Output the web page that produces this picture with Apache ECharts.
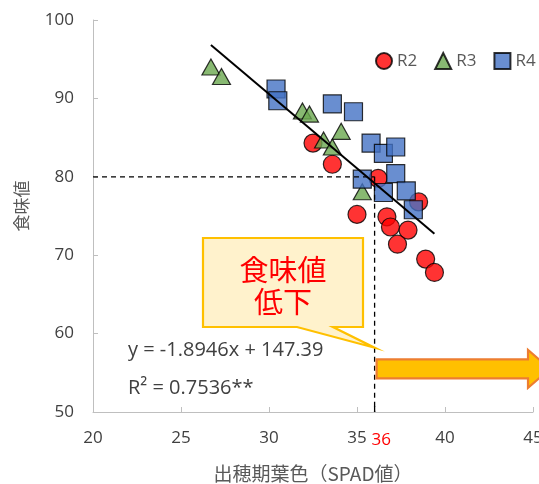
<!DOCTYPE html>
<html>
<head>
<meta charset="utf-8">
<script src="https://cdn.jsdelivr.net/npm/echarts@6/dist/echarts.min.js"></script>
<style>
  html, body { margin: 0; padding: 0; background: #fff; }
  #chart { width: 539px; height: 484px; }
</style>
</head>
<body>
<div id="chart"></div>
<script>
// SPAD leaf colour at heading vs. eating-quality score, by year
const r2X = [32.5, 33.6, 36.2, 38.5, 35.0, 36.7, 36.9, 37.9, 37.3, 38.9, 39.4];
const r2Y = [84.3, 81.6, 79.8, 76.8, 75.2, 74.9, 73.6, 73.2, 71.4, 69.5, 67.8];
const r3X = [26.7, 27.3, 31.9, 32.3, 34.1, 33.1, 33.6, 35.3];
const r3Y = [94.0, 92.8, 88.4, 88.0, 85.8, 84.7, 83.8, 78.1];
const r4X = [30.4, 30.5, 33.6, 34.8, 35.8, 36.5, 37.2, 35.3, 37.2, 36.5, 37.8, 38.2];
const r4Y = [91.2, 89.7, 89.3, 88.3, 84.3, 83.0, 83.8, 79.7, 80.4, 78.0, 78.2, 75.8];

// Linear fit shown in the annotation
const slope = -1.8946;
const intercept = 147.39;
const r2Text = 'R² = 0.7536**';

// Threshold guides
const spadThreshold = 36;
const tasteThreshold = 80;

const xTicks = [20, 25, 30, 35, 40, 45];
const yTicks = [50, 60, 70, 80, 90, 100];

const LATIN = '"Open Sans", "Noto Sans CJK JP", sans-serif';
const CJK = '"Noto Sans CJK JP", sans-serif';
const GREY = '#595959';

function pairs(xs, ys) { return xs.map((x, i) => [x, ys[i]]); }

const allX = r2X.concat(r3X, r4X);
const fitX0 = Math.min(...allX);
const fitX1 = Math.max(...allX);
const fitLine = [[fitX0, slope * fitX0 + intercept], [fitX1, slope * fitX1 + intercept]];

const chart = echarts.init(document.getElementById('chart'));

const markerBorder = { borderColor: '#000', borderWidth: 1.2 };

chart.setOption({
  animation: false,
  textStyle: { fontFamily: LATIN },
  grid: { left: 93, right: 6, top: 20, bottom: 72, outerBoundsMode: 'none' },
  legend: {
    orient: 'horizontal', left: 375, top: 52, padding: 0,
    itemWidth: 16, itemHeight: 16, itemGap: 17,
    textStyle: { color: GREY, fontSize: 17, fontFamily: LATIN },
    data: [
      { name: 'R2', icon: 'circle' },
      { name: 'R3', icon: 'triangle' },
      { name: 'R4', icon: 'rect' }
    ]
  },
  xAxis: {
    type: 'value', min: xTicks[0], max: xTicks[xTicks.length - 1], interval: 5,
    name: '出穂期葉色（SPAD値）', nameLocation: 'middle', nameGap: 52,
    nameTextStyle: { color: GREY, fontSize: 19, fontFamily: CJK },
    axisLine: { lineStyle: { color: '#bfbfbf', width: 1 } },
    axisTick: { inside: true, length: 5, lineStyle: { color: '#bfbfbf' } },
    axisLabel: { color: '#404040', fontSize: 17, margin: 18 },
    splitLine: { show: false }
  },
  yAxis: {
    type: 'value', min: yTicks[0], max: yTicks[yTicks.length - 1], interval: 10,
    axisLine: { show: true, lineStyle: { color: '#bfbfbf', width: 1 } },
    axisTick: { show: true, inside: true, length: 5, lineStyle: { color: '#bfbfbf' } },
    axisLabel: { color: '#404040', fontSize: 17, margin: 19 },
    splitLine: { show: false }
  },
  series: [
    {
      name: 'R2', type: 'scatter', symbol: 'circle', symbolSize: 18, z: 2,
      itemStyle: Object.assign({ color: '#FF0000' }, markerBorder),
      data: pairs(r2X, r2Y)
    },
    {
      name: 'R3', type: 'scatter', symbol: 'triangle', symbolSize: [18, 16], z: 3,
      itemStyle: Object.assign({ color: '#6AA84F' }, markerBorder),
      data: pairs(r3X, r3Y)
    },
    {
      name: 'R4', type: 'scatter', symbol: 'rect', symbolSize: 18, z: 4,
      itemStyle: Object.assign({ color: '#4472C4' }, markerBorder),
      data: pairs(r4X, r4Y)
    },
    {
      name: 'fit', type: 'line', symbol: 'none', z: 6, silent: true,
      lineStyle: { color: '#000', width: 2 },
      data: fitLine
    },
    {
      name: 'guideH', type: 'line', symbol: 'none', z: 5, silent: true,
      lineStyle: { color: '#000', width: 1.3, type: [5, 4] },
      data: [[xTicks[0], tasteThreshold], [spadThreshold, tasteThreshold]]
    },
    {
      name: 'guideV', type: 'line', symbol: 'none', z: 5, silent: true,
      lineStyle: { color: '#000', width: 1.3, type: [5, 4] },
      data: [[spadThreshold, tasteThreshold], [spadThreshold, yTicks[0]]]
    }
  ]
});

// Annotations anchored to the threshold position on the axes
const base = chart.convertToPixel({ gridIndex: 0 }, [spadThreshold, yTicks[0]]);
const tip = chart.convertToPixel({ gridIndex: 0 }, [spadThreshold, 58.2]);
const arrowMid = chart.convertToPixel({ gridIndex: 0 }, [spadThreshold, 55.5]);
const tx = tip[0];

chart.setOption({
  graphic: [
    {
      // y-axis title, reading bottom to top
      type: 'text', x: 22, y: 206, rotation: Math.PI / 2, z: 10,
      style: { text: '食味値', fill: GREY, font: '17px ' + CJK, align: 'center', verticalAlign: 'middle' }
    },
    {
      type: 'text', x: base[0] - 3, y: base[1] + 28, z: 10,
      style: { text: String(spadThreshold), fill: '#FF0000', font: '17px ' + LATIN, align: 'left', verticalAlign: 'middle' }
    },
    {
      type: 'line', z: 10,
      shape: { x1: base[0], y1: base[1] - 6, x2: base[0], y2: base[1] },
      style: { stroke: '#000', lineWidth: 1.3 }
    },
    {
      type: 'polygon', z: 10,
      shape: { points: [[203, 238], [363, 238], [363, 327], [333, 327], [tx, tip[1]], [297, 327], [203, 327]] },
      style: { fill: '#FFF2CC', stroke: '#FFC000', lineWidth: 2.2 }
    },
    {
      type: 'text', x: 283, y: 270, z: 11,
      style: { text: '食味値', fill: '#FF0000', font: '29px ' + CJK, align: 'center', verticalAlign: 'middle' }
    },
    {
      type: 'text', x: 283, y: 302, z: 11,
      style: { text: '低下', fill: '#FF0000', font: '29px ' + CJK, align: 'center', verticalAlign: 'middle' }
    },
    {
      type: 'polygon', z: 10,
      shape: {
        points: [
          [tx + 2, arrowMid[1] - 9.5], [528, arrowMid[1] - 9.5], [528, arrowMid[1] - 19],
          [550, arrowMid[1]], [528, arrowMid[1] + 19], [528, arrowMid[1] + 9.5], [tx + 2, arrowMid[1] + 9.5]
        ]
      },
      style: { fill: '#FFC000', stroke: '#ED7D31', lineWidth: 2.2 }
    },
    {
      type: 'text', x: 128, y: 350, z: 10,
      style: { text: 'y = ' + slope + 'x + ' + intercept, fill: '#404040', font: '20px ' + LATIN, align: 'left', verticalAlign: 'middle' }
    },
    {
      type: 'text', x: 128, y: 388, z: 10,
      style: { text: r2Text, fill: '#404040', font: '20px ' + LATIN, align: 'left', verticalAlign: 'middle' }
    }
  ]
});
</script>
</body>
</html>
